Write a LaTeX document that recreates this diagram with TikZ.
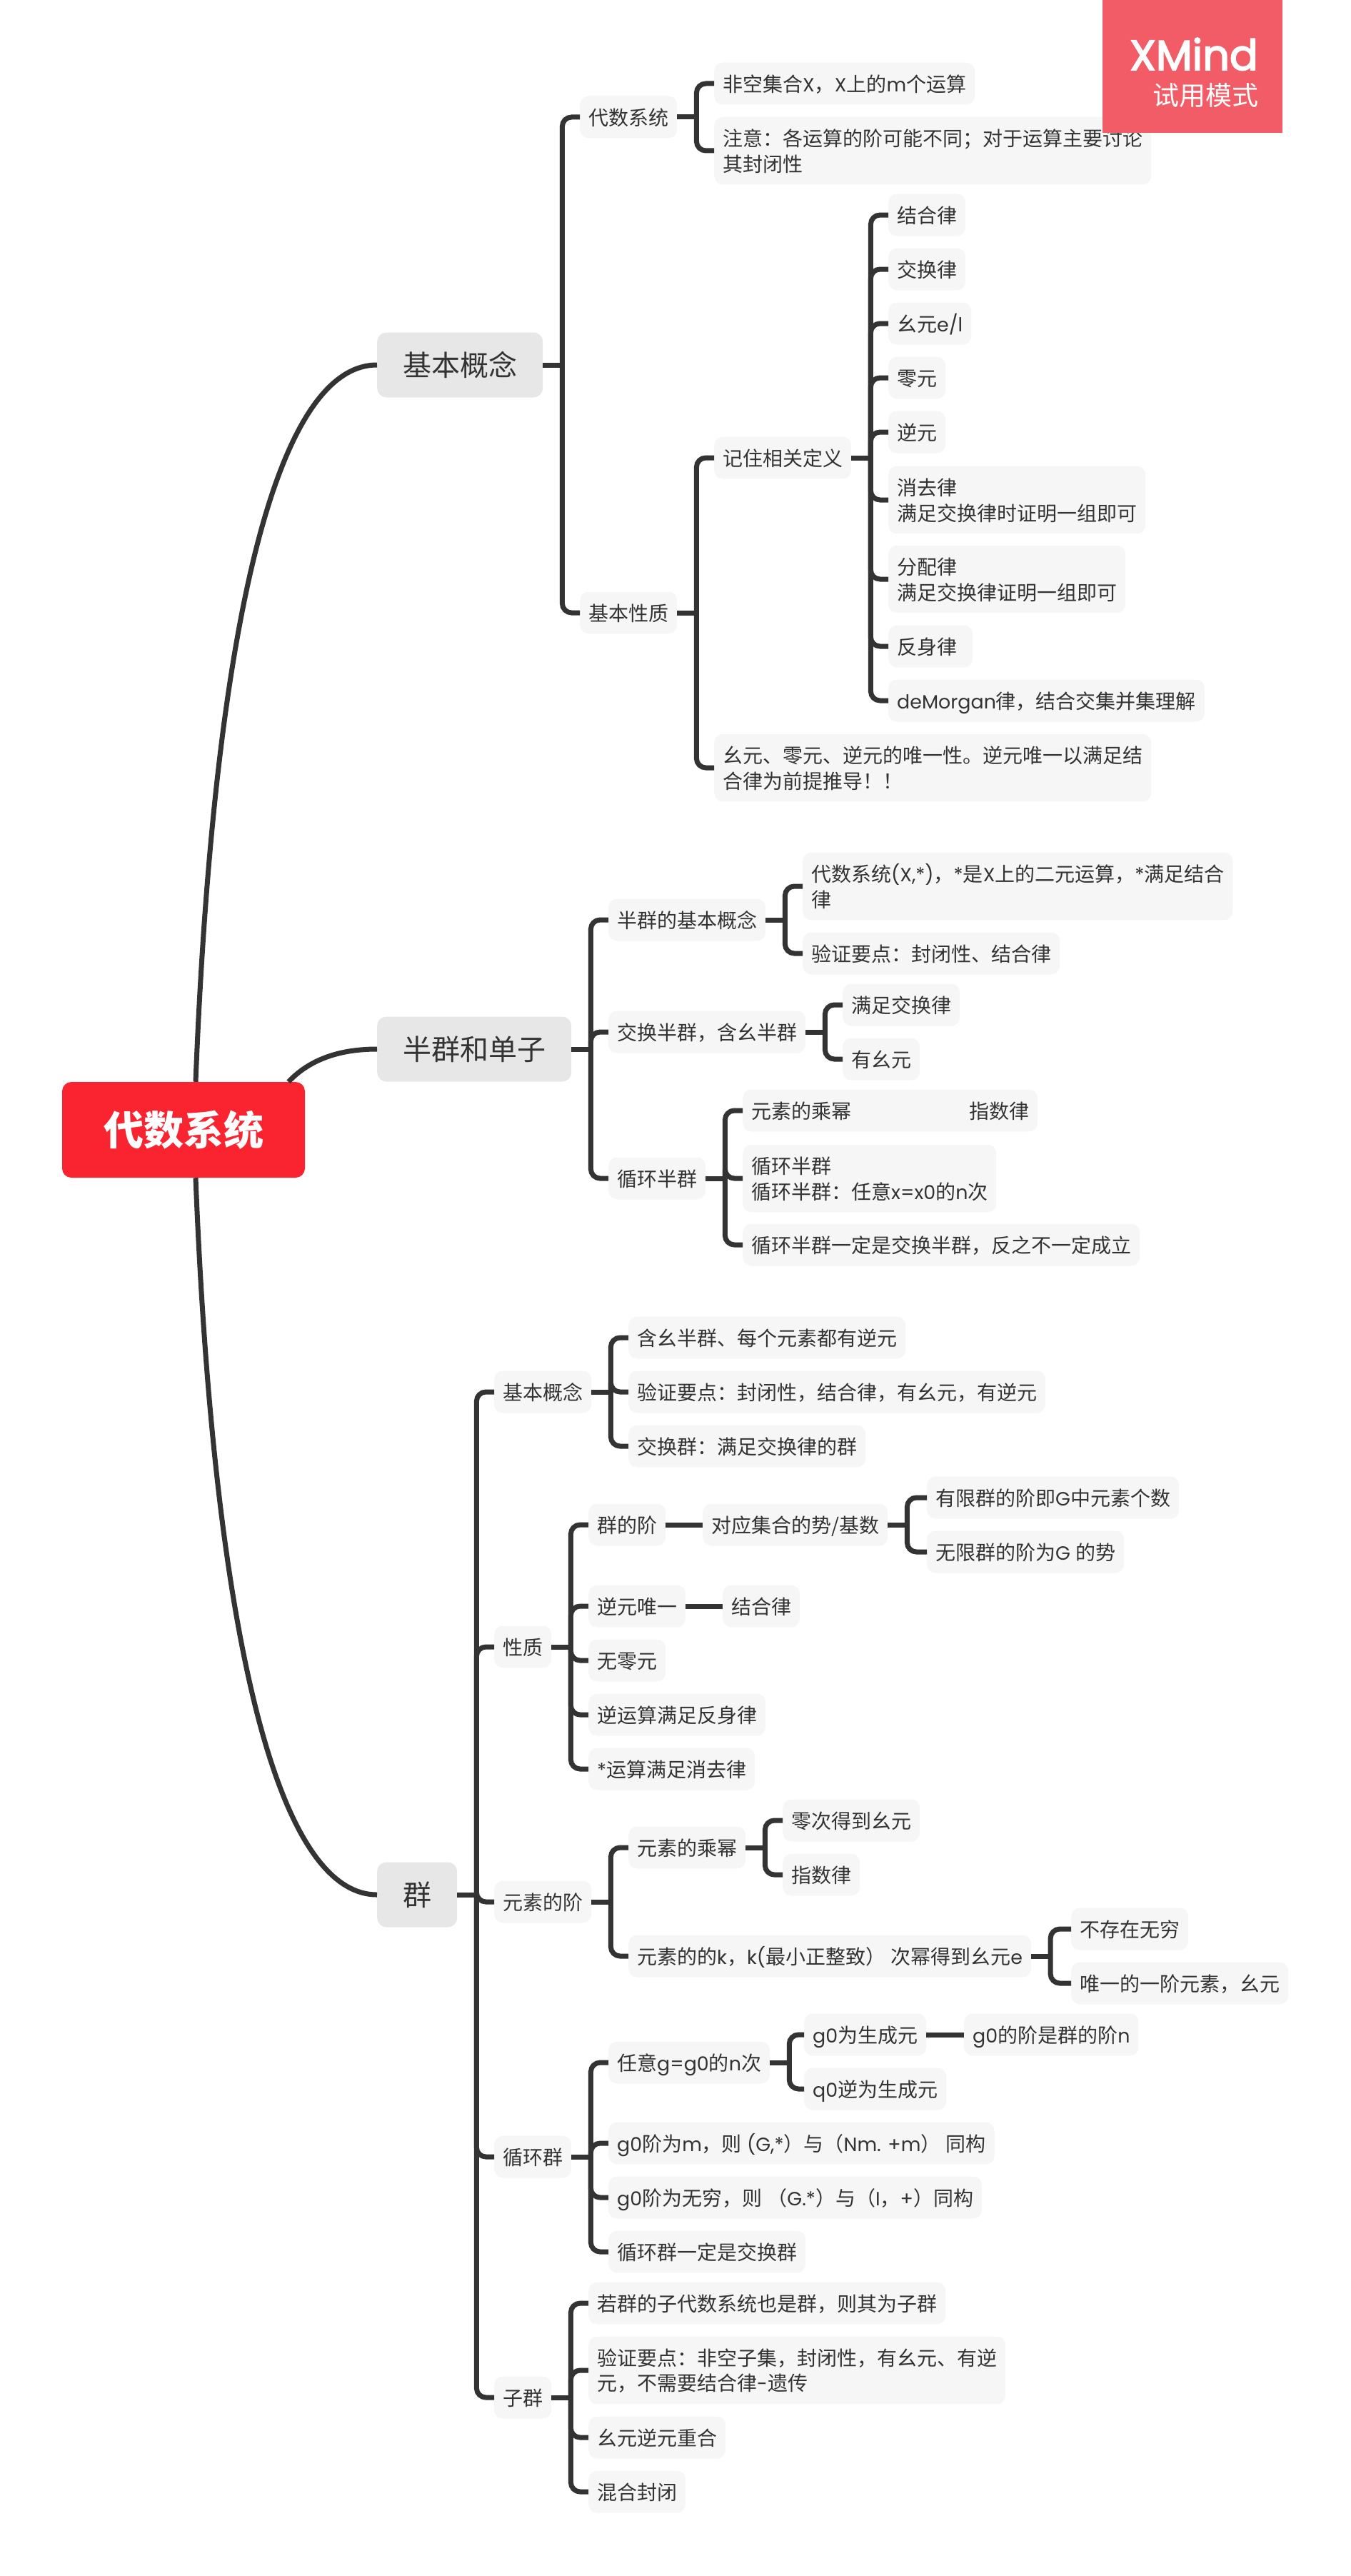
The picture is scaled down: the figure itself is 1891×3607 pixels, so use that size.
\documentclass[tikz,border=0pt]{standalone}
\usepackage{fontspec}
\setmainfont{Noto Sans CJK SC}
\newfontfamily\latfont[Scale=0.96]{Poppins}
\newfontfamily\badgefont[FakeBold=3]{Poppins}
\newcommand{\lat}[1]{{\latfont #1}}
\newcommand{\tworows}[2]{\rule{0pt}{25.3pt}#1\\#2\rule[-2.7pt]{0pt}{2.7pt}}
\usetikzlibrary{positioning}
\definecolor{ink}{HTML}{333333}
\definecolor{rootred}{HTML}{FA2330}
\definecolor{badgered}{HTML}{F25C66}

\begin{document}
\begin{tikzpicture}[
    x=1pt, y=-1pt,
    note/.style={fill=black!3.5, rounded corners=12pt, anchor=west, align=left, text=ink,
      inner xsep=12pt, inner ysep=15.5pt, font=\fontsize{28}{35.5}\selectfont},
    leaf/.style={note, text height=25.3pt, text depth=2.7pt},
    topic/.style={fill=black!9.5, rounded corners=13pt, anchor=west, text=ink,
      inner xsep=36pt, minimum height=91pt, font=\fontsize{40}{48}\selectfont},
    link/.style={draw=ink, line width=7pt},
    elbow/.style={link, rounded corners=13pt}
  ]
  \useasboundingbox (0,0) rectangle (1891,3607);

  % --- Centre and main topics ---
  \node[fill=rootred, rounded corners=13pt, minimum width=340pt, minimum height=134pt,
    text=white, font=\fontsize{56}{66}\selectfont\bfseries] (root) at (257,1582) {代数系统};
  \node[topic] (basic) at (528,511) {基本概念};
  \node[topic] (semi) at (528,1469) {半群和单子};
  \node[topic] (group) at (528,2653) {群};

  \draw[link] ([xshift=17pt]root.north) .. controls (300,860) and (390,511) .. (basic.west);
  \draw[link] ([xshift=147pt]root.north) .. controls (435,1482) and (478,1469) .. (semi.west);
  \draw[link] ([xshift=17pt]root.south) .. controls (300,2300) and (390,2653) .. (group.west);

  % --- Basic concepts ---
  \node[leaf] (algsys) at (812,164) {代数系统};
  \node[leaf] (nonempty) at (1000,117) {非空集合\lat{X}，\lat{X}上的\lat{m}个运算};
  \node[note] (notice) at (1000,211) {\tworows{注意：各运算的阶可能不同；对于运算主要讨论}{其封闭性}};
  \node[leaf] (basicprop) at (812,858) {基本性质};
  \node[leaf] (recall) at (1000,641) {记住相关定义};
  \node[leaf] (assoc) at (1244,301) {结合律};
  \node[leaf] (comm) at (1244,377) {交换律};
  \node[leaf] (unit) at (1244,453) {幺元\lat{e/l}};
  \node[leaf] (zero) at (1244,529) {零元};
  \node[leaf] (inv) at (1244,605) {逆元};
  \node[note] (cancel) at (1244,700) {\tworows{消去律}{满足交换律时证明一组即可}};
  \node[note] (dist) at (1244,811) {\tworows{分配律}{满足交换律证明一组即可}};
  \node[leaf] (reflex) at (1244,905) {反身律\hspace*{10pt}};
  \node[leaf] (morgan) at (1244,981) {\lat{deMorgan}律，结合交集并集理解};
  \node[note] (unique) at (1000,1075) {\tworows{幺元、零元、逆元的唯一性。逆元唯一以满足结}{合律为前提推导！！}};

  % --- Semigroups and monoids ---
  \node[leaf] (semibase) at (852,1288) {半群的基本概念};
  \node[note] (semidef) at (1124,1241) {\tworows{代数系统\lat{(X,*)}，\lat{*}是\lat{X}上的二元运算，\lat{*}满足结合}{律}};
  \node[leaf] (semicheck) at (1124,1335) {验证要点：封闭性、结合律};
  \node[leaf] (commsemi) at (852,1445) {交换半群，含幺半群};
  \node[leaf] (commlaw) at (1180,1407) {满足交换律};
  \node[leaf] (hasunit) at (1180,1483) {有幺元};
  \node[leaf] (cyclesemi) at (852,1650) {循环半群};
  \node[leaf] (power) at (1040,1555) {元素的乘幂\hspace*{165pt}指数律};
  \node[note] (cycledef) at (1040,1650) {\tworows{循环半群}{循环半群：任意\lat{x=x0}的\lat{n}次}};
  \node[leaf] (cyclecomm) at (1040,1743) {循环半群一定是交换半群，反之不一定成立};

  % --- Groups: concept and properties ---
  \node[leaf] (gbasic) at (692,1949) {基本概念};
  \node[leaf] (gdef) at (880,1873) {含幺半群、每个元素都有逆元};
  \node[leaf] (gcheck) at (880,1949) {验证要点：封闭性，结合律，有幺元，有逆元};
  \node[leaf] (gcomm) at (880,2025) {交换群：满足交换律的群};
  \node[leaf] (gprop) at (692,2306) {性质};
  \node[leaf] (order) at (824,2135) {群的阶};
  \node[leaf] (card) at (984,2135) {对应集合的势/基数};
  \node[leaf] (finite) at (1298,2097) {有限群的阶即\lat{G}中元素个数};
  \node[leaf] (infinite) at (1298,2173) {无限群的阶为\lat{G }的势};
  \node[leaf] (invuniq) at (824,2249) {逆元唯一};
  \node[leaf] (assoc2) at (1012,2249) {结合律};
  \node[leaf] (nozero) at (824,2325) {无零元};
  \node[leaf] (invreflex) at (824,2401) {逆运算满足反身律};
  \node[leaf] (starcancel) at (824,2477) {\lat{*}运算满足消去律};

  % --- Groups: element order ---
  \node[leaf] (eorder) at (692,2663) {元素的阶};
  \node[leaf] (epower) at (880,2587) {元素的乘幂};
  \node[leaf] (zeropow) at (1096,2549) {零次得到幺元};
  \node[leaf] (powlaw) at (1096,2625) {指数律};
  \node[leaf] (kpow) at (880,2739) {元素的的\lat{k}，\lat{k(}最小正整致）\lat{ }次幂得到幺元\lat{e}};
  \node[leaf] (noinf) at (1500,2701) {不存在无穷};
  \node[leaf] (oneorder) at (1500,2777) {唯一的一阶元素，幺元};

  % --- Groups: cyclic groups and subgroups ---
  \node[leaf] (cyclic) at (692,3020) {循环群};
  \node[leaf] (anyg) at (852,2888) {任意\lat{g=g0}的\lat{n}次};
  \node[leaf] (gen) at (1126,2849) {\lat{g0}为生成元};
  \node[leaf] (genorder) at (1350,2849) {\lat{g0}的阶是群的阶\lat{n}};
  \node[leaf] (geninv) at (1126,2925) {\lat{q0}逆为生成元};
  \node[leaf] (ordm) at (852,3001) {\lat{g0}阶为\lat{m}，则\lat{ (G,*}）与（\lat{Nm. +m}）\lat{ }同构};
  \node[leaf] (ordinf) at (852,3077) {\lat{g0}阶为无穷，则\lat{ }（\lat{G.*}）与（\lat{I}，\lat{+}）同构};
  \node[leaf] (cyclicomm) at (852,3153) {循环群一定是交换群};
  \node[leaf] (subgroup) at (692,3357) {子群};
  \node[leaf] (subdef) at (824,3225) {若群的子代数系统也是群，则其为子群};
  \node[note] (subcheck) at (824,3319) {\tworows{验证要点：非空子集，封闭性，有幺元、有逆}{元，不需要结合律\lat{-}遗传}};
  \node[leaf] (subunit) at (824,3413) {幺元逆元重合};
  \node[leaf] (subclose) at (824,3489) {混合封闭};

  % --- Branches ---
  \foreach \parent/\kids in {
      basic/{algsys,basicprop}, algsys/{nonempty,notice}, basicprop/{recall,unique},
      recall/{assoc,comm,unit,zero,inv,cancel,dist,reflex,morgan},
      semi/{semibase,commsemi,cyclesemi}, semibase/{semidef,semicheck},
      commsemi/{commlaw,hasunit}, cyclesemi/{power,cycledef,cyclecomm},
      group/{gbasic,gprop,eorder,cyclic,subgroup}, gbasic/{gdef,gcheck,gcomm},
      gprop/{order,invuniq,nozero,invreflex,starcancel}, card/{finite,infinite},
      eorder/{epower,kpow}, epower/{zeropow,powlaw}, kpow/{noinf,oneorder},
      cyclic/{anyg,ordm,ordinf,cyclicomm}, anyg/{gen,geninv},
      subgroup/{subdef,subcheck,subunit,subclose}} {
    \draw[link] (\parent.east) -- ++(27,0) coordinate (spine);
    \foreach \kid in \kids {
      \draw[elbow] (spine) |- (\kid.west);
    }
  }
  \draw[link] (order) -- (card);
  \draw[link] (invuniq) -- (assoc2);
  \draw[link] (gen) -- (genorder);

  % --- Trial badge ---
  \node[fill=badgered, minimum width=252pt, minimum height=186pt, anchor=north west] (badge) at (1544,0) {};
  \node[text=white, anchor=base east, inner sep=0pt, font=\fontsize{59}{59}\badgefont] (brand) at (1762,98) {XMind};
  \node[text=white, anchor=base east, inner sep=0pt, font=\fontsize{37}{37}\selectfont] (trial) at (1763,148) {试用模式};
\end{tikzpicture}
\end{document}
